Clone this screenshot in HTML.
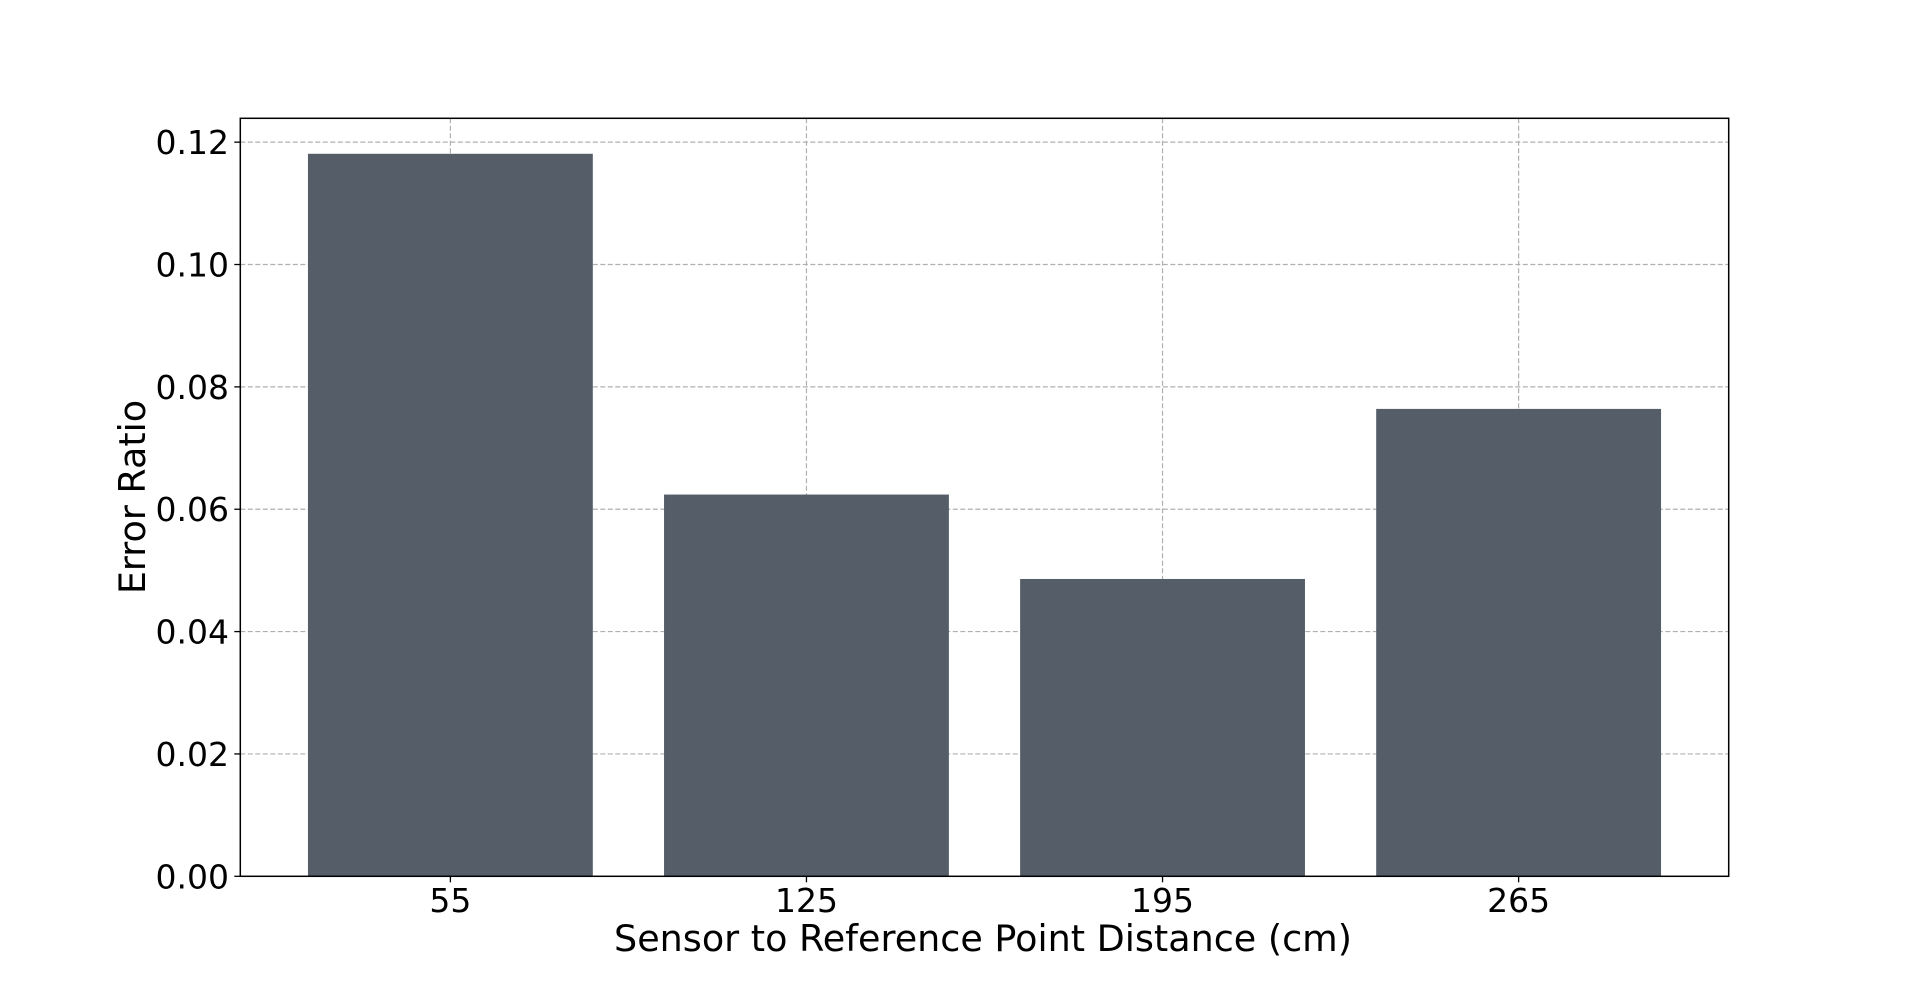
<!DOCTYPE html>
<html><head><meta charset="utf-8"><style>
html,body{margin:0;padding:0;background:#fff;}
svg{display:block;font-family:"DejaVu Sans","Liberation Sans",sans-serif;}
</style></head><body>
<svg id="chart" width="1920" height="984" viewBox="0 0 1920 984" xmlns="http://www.w3.org/2000/svg"></svg>
<script>
const categories = [55, 125, 195, 265];
const values = [0.1181, 0.0624, 0.0486, 0.0764];
const yTicks = [0.00, 0.02, 0.04, 0.06, 0.08, 0.10, 0.12];
const yTickLabels = ["0.00","0.02","0.04","0.06","0.08","0.10","0.12"];
const barWidth = 56;

const L = 240.3, R = 1728.7, T = 118.3, B = 876.3;
const xMin = 13.7, xMax = 306.3, yMin = 0, yMax = 0.1239;
const xs = v => L + (v - xMin) / (xMax - xMin) * (R - L);
const ys = v => B - (v - yMin) / (yMax - yMin) * (B - T);
const NS = "http://www.w3.org/2000/svg";
const svg = document.getElementById('chart');
function mk(tag, attrs, parent) {
  const e = document.createElementNS(NS, tag);
  for (const k in attrs) e.setAttribute(k, attrs[k]);
  (parent || svg).appendChild(e);
  return e;
}
yTicks.forEach(t => {
  const g = mk('line', {x1: L, x2: R, y1: ys(t), y2: ys(t), stroke: '#b0b0b0', 'stroke-width': 1.2, 'stroke-dasharray': '5,2.5'});
  
  
});
categories.forEach(c => {
  const g = mk('line', {x1: xs(c), x2: xs(c), y1: T, y2: B, stroke: '#b0b0b0', 'stroke-width': 1.2, 'stroke-dasharray': '5,2.5'});
  
  
});
categories.forEach((c, i) => {
  const x0 = xs(c - barWidth / 2), x1 = xs(c + barWidth / 2);
  const b = mk('rect', {x: x0, y: ys(values[i]), width: x1 - x0, height: B - ys(values[i]), fill: '#555e68'});
  
  
});
const fr = mk('rect', {x: L, y: T, width: R - L, height: B - T, fill: 'none', stroke: '#000', 'stroke-width': 1.5});


yTicks.forEach((t, i) => {
  mk('line', {x1: L - 6, x2: L, y1: ys(t), y2: ys(t), stroke: '#000', 'stroke-width': 1.3});
  const tx = mk('text', {x: 229, y: ys(t) + 12, 'text-anchor': 'end', 'font-size': 33, fill: '#000'});
  tx.textContent = yTickLabels[i];
  
  
});
categories.forEach(c => {
  mk('line', {x1: xs(c), x2: xs(c), y1: B, y2: B + 6, stroke: '#000', 'stroke-width': 1.3});
  const tx = mk('text', {x: xs(c), y: 912, 'text-anchor': 'middle', 'font-size': 33, fill: '#000'});
  tx.textContent = String(c);
  
  
});
const xl = mk('text', {x: 983, y: 951, 'text-anchor': 'middle', 'font-size': 36.5, fill: '#000'});
xl.textContent = 'Sensor to Reference Point Distance (cm)';


const yl = mk('text', {x: 0, y: 0, 'text-anchor': 'middle', 'font-size': 36.5, fill: '#000', transform: 'translate(145,497) rotate(-90)'});
yl.textContent = 'Error Ratio';


</script>
</body></html>
